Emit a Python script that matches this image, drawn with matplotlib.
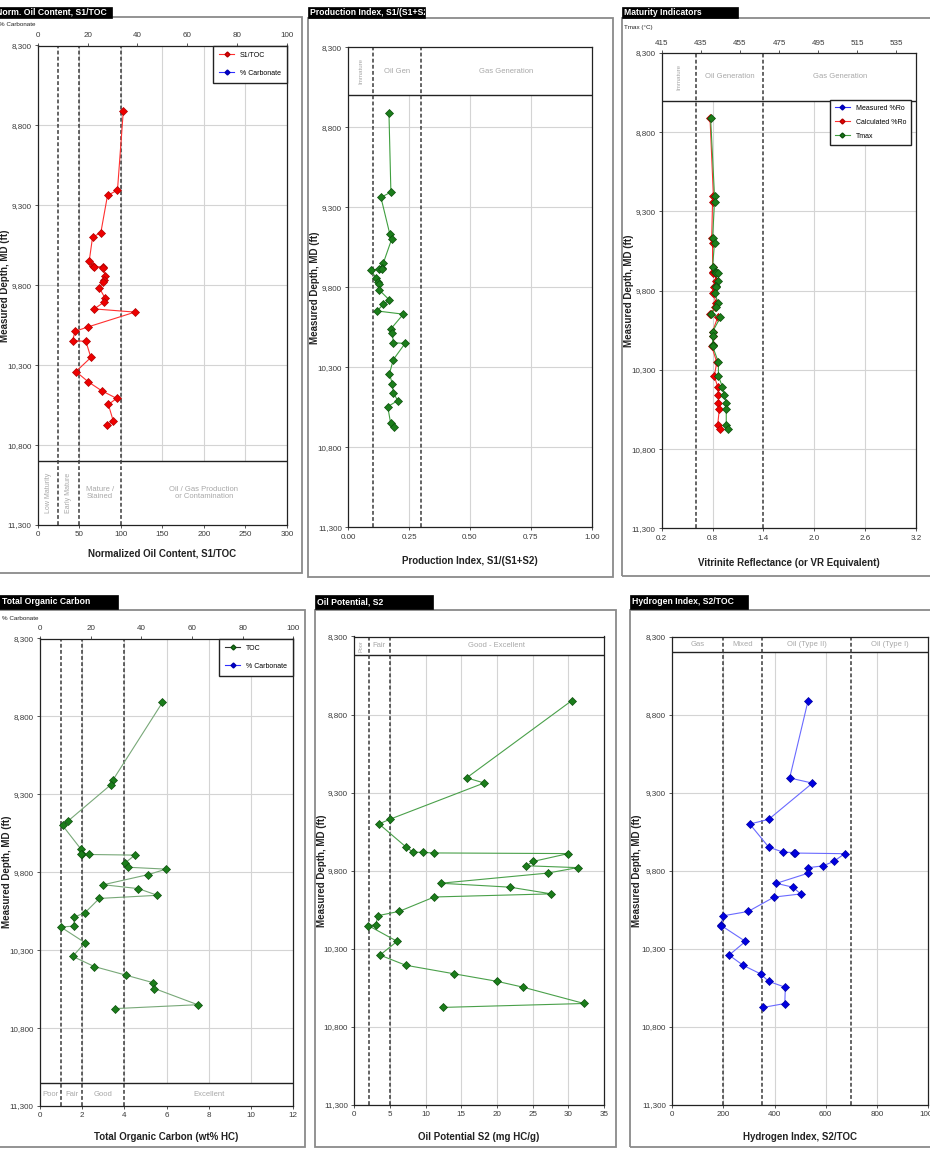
import matplotlib
matplotlib.use('Agg')
import matplotlib.pyplot as plt
from matplotlib.patches import Rectangle
from matplotlib.lines import Line2D
from matplotlib.transforms import Bbox, TransformedBbox

plt.rcParams['font.family'] = ['Liberation Sans', 'DejaVu Sans']

W, H = 930, 1149

# ---------------- data ----------------
depth = [8710, 9205, 9238, 9470, 9500, 9648, 9680, 9683, 9686, 9690,
         9740, 9768, 9780, 9815, 9880, 9905, 9948, 9968, 10060, 10088,
         10146, 10151, 10252, 10340, 10405, 10460, 10508, 10546, 10650, 10675]
s1_toc = [103, 96, 84, 76, 66, 62, 66, 68, 79, 79,
          81, 80, 79, 74, 81, 80, 68, 117, 61, 45,
          42, 58, 64, 46, 61, 77, 95, 85, 91, 83]
prod_index = [0.167, 0.175, 0.134, 0.171, 0.178, 0.144, 0.140, 0.125, 0.138, 0.093,
              0.113, 0.122, 0.128, 0.126, 0.169, 0.144, 0.119, 0.226, 0.175, 0.181,
              0.185, 0.233, 0.185, 0.169, 0.181, 0.185, 0.203, 0.162, 0.174, 0.189]
ro_calc = [0.77, 0.81, 0.80, 0.79, 0.80, 0.80, 0.80, 0.82, 0.81, 0.83,
           0.84, 0.83, 0.82, 0.81, 0.84, 0.83, 0.77, 0.86, 0.80, 0.80,
           0.80, 0.79, 0.85, 0.82, 0.86, 0.87, 0.87, 0.88, 0.86, 0.89]
tmax = [440, 442, 442, 441, 442, 441, 442, 443, 443, 444,
        444, 443, 443, 442, 444, 443, 440, 445, 441, 441,
        441, 441, 444, 444, 446, 447, 448, 448, 448, 449]
toc = [5.8, 3.47, 3.36, 1.34, 1.07, 1.92, 1.97, 1.95, 2.34, 4.5,
       4.03, 4.19, 5.97, 5.13, 3.0, 4.66, 5.56, 2.81, 2.13, 1.61,
       1.61, 0.98, 2.13, 1.55, 2.57, 4.06, 5.34, 5.42, 7.47, 3.55]
s2 = [30.5, 15.75, 18.2, 5.0, 3.46, 7.25, 8.2, 9.6, 11.2, 30.0,
      25.1, 24.1, 31.3, 27.1, 12.1, 21.8, 27.6, 11.2, 6.3, 3.28,
      3.04, 1.96, 6.0, 3.6, 7.2, 14.0, 20.0, 23.7, 32.2, 12.5]
hi = [531, 459, 548, 377, 303, 377, 433, 476, 480, 674,
      631, 589, 531, 531, 407, 472, 502, 398, 297, 199,
      190, 192, 286, 222, 277, 345, 377, 442, 440, 355]

depth_ticks = [8300, 8800, 9300, 9800, 10300, 10800, 11300]
carb_ticks = [0, 20, 40, 60, 80, 100]
tmax_ticks = [415, 435, 455, 475, 495, 515, 535]

# ---------------- helpers ----------------
fig = plt.figure(figsize=(W / 100, H / 100), dpi=100)

TICK_C = '#3a3a3a'
GRID_C = '#d4d4d4'
ZONE_C = '#a8a8a8'
DASH_C = '#3a3a3a'
GREEN_F = '#1b7d1b'
GREEN_E = '#0b4f0b'


def make_ax(x0, x1, y0, y1):
    return fig.add_axes([x0 / W, 1 - y1 / H, (x1 - x0) / W, (y1 - y0) / H])


def frame(x0, x1, y0, y1):
    fig.patches.append(Rectangle((x0 / W, 1 - y1 / H), (x1 - x0) / W, (y1 - y0) / H,
                                 transform=fig.transFigure, fill=False,
                                 edgecolor='#8a8a8a', lw=1.3))


def title_tab(x0, x1, y0, y1, text, tx):
    fig.patches.append(Rectangle((x0 / W, 1 - y1 / H), (x1 - x0) / W, (y1 - y0) / H,
                                 transform=fig.transFigure, facecolor='black',
                                 edgecolor='black', lw=0.5, zorder=5))
    t = fig.text(tx / W, 1 - ((y0 + y1) / 2) / H, text, color='white', fontsize=6.2,
                 fontweight='bold', va='center', ha='left', zorder=6)
    t.set_clip_box(TransformedBbox(Bbox.from_extents(x0 / W, 1 - y1 / H, x1 / W, 1 - y0 / H),
                                   fig.transFigure))
    t.set_clip_on(True)


def setup(ax, xlim, xticks, xfmt, band, band_edge, dashes, zones, xlabel, grid_x, ylab_x, xlab_y):
    ax.set_xlim(*xlim)
    ax.set_ylim(11300, 8300)
    ax.set_yticks(depth_ticks)
    ax.set_yticklabels([f'{d:,}' for d in depth_ticks])
    ax.set_xticks(xticks)
    ax.set_xticklabels([xfmt(v) for v in xticks])
    ax.tick_params(labelsize=5.8, colors=TICK_C, length=2.5, width=0.6, pad=2)
    for s in ax.spines.values():
        s.set_color('#222222')
        s.set_linewidth(0.9)
    for gx in grid_x:
        ax.axvline(gx, color=GRID_C, lw=0.8, zorder=0.5)
    for d in depth_ticks:
        ax.axhline(d, color=GRID_C, lw=0.8, zorder=0.5)
    ax.axhspan(band[0], band[1], facecolor='white', edgecolor='none', zorder=1)
    ax.axhline(band_edge, color='#222222', lw=1.0, zorder=2)
    for dx in dashes:
        ax.axvline(dx, color=DASH_C, lw=1.1, ls=(0, (2.5, 1.5)), zorder=2)
    mid = (band[0] + band[1]) / 2
    for txt, x, rot, fs in zones:
        ax.text(x, mid, txt, rotation=rot, color=ZONE_C, ha='center', va='center',
                fontsize=fs, zorder=2.5, linespacing=1.1)
    bb = ax.get_position()
    fig.text(bb.x0 + bb.width / 2, 1 - xlab_y / H, xlabel, ha='center', va='center',
             fontsize=7, fontweight='bold', color='#222222')
    fig.text(ylab_x / W, bb.y0 + bb.height / 2, 'Measured Depth, MD (ft)', rotation=90,
             ha='center', va='center', fontsize=7, fontweight='bold', color='#222222')


def top_axis(ax, lim, ticks):
    t = ax.twiny()
    t.set_xlim(*lim)
    t.set_xticks(ticks)
    t.tick_params(labelsize=5.8, colors=TICK_C, length=2.5, width=0.6, pad=2)
    for s in t.spines.values():
        s.set_visible(False)
    return t


leg_kw = dict(fontsize=5, frameon=True, fancybox=False, edgecolor='#222222',
              framealpha=1, handlelength=2.2, labelspacing=1.6, borderpad=0.9)

# ---------------- panel frames & titles ----------------
frame(-2, 302, 17, 573)
frame(308, 613, 18, 577)
frame(622, 935, 18, 576)
frame(-2, 305, 610, 1147)
frame(315, 616, 610, 1147)
frame(630, 935, 610, 1147)
title_tab(-2, 112, 7, 18, 'Norm. Oil Content, S1/TOC', -4)
title_tab(308, 425, 7, 18, 'Production Index, S1/(S1+S2)', 310)
title_tab(622, 738, 7, 18, 'Maturity Indicators', 624)
title_tab(-2, 118, 595, 609, 'Total Organic Carbon', 2)
title_tab(315, 433, 595, 609, 'Oil Potential, S2', 317)
title_tab(630, 748, 595, 609, 'Hydrogen Index, S2/TOC', 632)

# ---------------- top-left: S1/TOC ----------------
ax = make_ax(37.7, 287, 45.5, 525)
setup(ax, (0, 300), list(range(0, 301, 50)), lambda v: f'{v:g}', (10900, 11300), 10900,
      [25, 50, 100],
      [('Low Maturity', 12.5, 90, 5), ('Early Mature', 37.5, 90, 5),
       ('Mature /\nStained', 75, 0, 5.5), ('Oil / Gas Production\nor Contamination', 200, 0, 5.5)],
      'Normalized Oil Content, S1/TOC', list(range(50, 300, 50)), 5, 554)
ax.plot(s1_toc, depth, color='#ff3030', lw=0.8, marker='D', ms=4.3,
        mfc='#ee0000', mec='#b00000', mew=0.5, zorder=3)
t = top_axis(ax, (0, 100), carb_ticks)
fig.text(-1 / W, 1 - 25 / H, '% Carbonate', fontsize=4.5, color='#222222', va='center')
t.legend(handles=[Line2D([], [], color='#ff3030', lw=0.8, marker='D', ms=2.5, mfc='#ee0000', mec='#b00000'),
                  Line2D([], [], color='#3030ff', lw=0.8, marker='D', ms=2.5, mfc='#0000dd', mec='#0000aa')],
         labels=['S1/TOC', '% Carbonate'], loc='upper right', borderaxespad=0, **leg_kw)

# ---------------- top-middle: Production Index ----------------
ax = make_ax(348.3, 591.7, 47.3, 527.3)
setup(ax, (0, 1), [0, 0.25, 0.5, 0.75, 1.0], lambda v: f'{v:.2f}', (8300, 8600), 8600,
      [0.1, 0.3],
      [('Immature', 0.05, 90, 4.5), ('Oil Gen', 0.2, 0, 5.5), ('Gas Generation', 0.65, 0, 5.5)],
      'Production Index, S1/(S1+S2)', [0.25, 0.5, 0.75], 315, 561)
ax.plot(prod_index, depth, color='#3f9f3f', lw=0.8, marker='D', ms=4.5,
        mfc=GREEN_F, mec=GREEN_E, mew=0.5, zorder=3)

# ---------------- top-right: Maturity ----------------
ax = make_ax(661.7, 916, 53, 528.3)
setup(ax, (0.2, 3.2), [0.2, 0.8, 1.4, 2.0, 2.6, 3.2], lambda v: f'{v:.1f}', (8300, 8600), 8600,
      [0.6, 1.4],
      [('Immature', 0.4, 90, 4.5), ('Oil Generation', 1.0, 0, 5.5), ('Gas Generation', 2.3, 0, 5.5)],
      'Vitrinite Reflectance (or VR Equivalent)', [0.8, 2.0, 2.6], 629, 563)
ax.plot(ro_calc, depth, color='#ff3030', lw=0.8, marker='D', ms=4.0,
        mfc='#ee0000', mec='#b00000', mew=0.5, zorder=3)
t = top_axis(ax, (415, 545), tmax_ticks)
t.plot(tmax, depth, color='#3f9f3f', lw=0.8, marker='D', ms=4.5,
       mfc=GREEN_F, mec=GREEN_E, mew=0.5, zorder=4)
t.set_ylim(11300, 8300)
fig.text(624 / W, 1 - 28 / H, 'Tmax (°C)', fontsize=4.5, color='#222222', va='center')
t.legend(handles=[Line2D([], [], color='#3030ff', lw=0.8, marker='D', ms=2.5, mfc='#0000dd', mec='#0000aa'),
                  Line2D([], [], color='#ff3030', lw=0.8, marker='D', ms=2.5, mfc='#ee0000', mec='#b00000'),
                  Line2D([], [], color='#3f9f3f', lw=0.8, marker='D', ms=2.5, mfc=GREEN_F, mec=GREEN_E)],
         labels=['Measured %Ro', 'Calculated %Ro', 'Tmax'], loc='upper right',
         bbox_to_anchor=(0.98, 0.901), borderaxespad=0,
         fontsize=5, frameon=True, fancybox=False, edgecolor='#222222', framealpha=1,
         handlelength=2.2, labelspacing=1.0, borderpad=0.7)

# ---------------- bottom-left: TOC ----------------
ax = make_ax(40, 293.3, 638.5, 1106)
setup(ax, (0, 12), list(range(0, 13, 2)), lambda v: f'{v:g}', (11150, 11300), 11150,
      [1, 2, 4],
      [('Poor', 0.5, 0, 5.5), ('Fair', 1.5, 0, 5.5), ('Good', 3, 0, 5.5), ('Excellent', 8, 0, 5.5)],
      'Total Organic Carbon (wt% HC)', list(range(2, 12, 2)), 7, 1137)
ax.plot(toc, depth, color='#78a878', lw=0.8, marker='D', ms=4.5,
        mfc=GREEN_F, mec=GREEN_E, mew=0.5, zorder=3)
t = top_axis(ax, (0, 100), carb_ticks)
fig.text(2 / W, 1 - 618 / H, '% Carbonate', fontsize=4.5, color='#222222', va='center')
t.legend(handles=[Line2D([], [], color='#333333', lw=0.8, marker='D', ms=2.5, mfc=GREEN_F, mec=GREEN_E),
                  Line2D([], [], color='#3030ff', lw=0.8, marker='D', ms=2.5, mfc='#0000dd', mec='#0000aa')],
         labels=['TOC', '% Carbonate'], loc='upper right', borderaxespad=0, **leg_kw)

# ---------------- bottom-middle: S2 ----------------
ax = make_ax(354.3, 604, 636.5, 1105)
setup(ax, (0, 35), list(range(0, 36, 5)), lambda v: f'{v:g}', (8300, 8420), 8420,
      [2, 5],
      [('Poor', 1.0, 90, 4), ('Fair', 3.5, 0, 5.5), ('Good - Excellent', 20, 0, 5.5)],
      'Oil Potential S2 (mg HC/g)', list(range(5, 35, 5)), 322, 1137)
ax.plot(s2, depth, color='#4aa04a', lw=0.8, marker='D', ms=4.5,
        mfc=GREEN_F, mec=GREEN_E, mew=0.5, zorder=3)

# ---------------- bottom-right: HI ----------------
ax = make_ax(672.3, 928, 636.7, 1105)
setup(ax, (0, 1000), list(range(0, 1001, 200)), lambda v: f'{v:g}', (8300, 8400), 8400,
      [200, 350, 700],
      [('Gas', 100, 0, 5.5), ('Mixed', 275, 0, 5.5), ('Oil (Type II)', 525, 0, 5.5),
       ('Oil (Type I)', 850, 0, 5.5)],
      'Hydrogen Index, S2/TOC', list(range(200, 1000, 200)), 637, 1137)
ax.plot(hi, depth, color='#6a6aff', lw=0.8, marker='D', ms=4.5,
        mfc='#0000e0', mec='#0000a0', mew=0.5, zorder=3)

fig.savefig('out.png', dpi=100, facecolor='white')
